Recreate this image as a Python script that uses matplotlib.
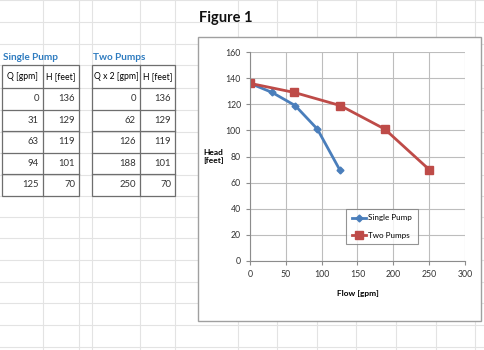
import matplotlib
matplotlib.use("Agg")
import matplotlib.pyplot as plt
from matplotlib.patches import Rectangle

plt.rcParams['font.family'] = ['Lato', 'DejaVu Sans']

# data
single_q = [0, 31, 63, 94, 125]
single_h = [136, 129, 119, 101, 70]
two_q = [0, 62, 126, 188, 250]
two_h = [136, 129, 119, 101, 70]

W, H = 485, 350
fig = plt.figure(figsize=(W / 100, H / 100), dpi=100)
fig.patch.set_facecolor('white')

# background sheet, pixel coordinates
bg = fig.add_axes([0, 0, 1, 1])
bg.set_xlim(0, W)
bg.set_ylim(H, 0)
bg.axis('off')

# spreadsheet cell grid
for x in [43, 79, 92, 140, 175, 238, 277, 317, 356, 396, 436, 475]:
    bg.axvline(x, color='#e3e3e3', lw=0.8, zorder=0)
for y in [0, 22, 44, 65, 88, 110, 132, 153, 175, 196, 217, 238, 260, 282, 303, 325, 347]:
    bg.axhline(y, color='#e3e3e3', lw=0.8, zorder=0)


def draw_table(x0, xd, x1, title, headers, c1, c2):
    top, hh, rh = 65, 23, 21.5
    bottom = top + hh + rh * len(c1)
    bg.text(x0 + 1, top - 3, title, color='#2f7cc0', fontsize=7.2, fontweight='bold',
            va='bottom', ha='left')
    bg.add_patch(Rectangle((x0, top), x1 - x0, bottom - top, fill=False,
                           ec='#6e6e6e', lw=0.9, zorder=3))
    bg.plot([xd, xd], [top, bottom], color='#6e6e6e', lw=0.9, zorder=3)
    bg.text((x0 + xd) / 2, top + hh / 2, headers[0], fontsize=6.2, ha='center', va='center')
    bg.text((xd + x1) / 2, top + hh / 2, headers[1], fontsize=6.2, ha='center', va='center')
    y = top + hh
    for a, b in zip(c1, c2):
        bg.plot([x0, x1], [y, y], color='#6e6e6e', lw=0.9, zorder=3)
        bg.text(xd - 4, y + rh / 2, str(a), fontsize=6.8, ha='right', va='center', color='#333333')
        bg.text(x1 - 4, y + rh / 2, str(b), fontsize=6.8, ha='right', va='center', color='#333333')
        y += rh


draw_table(2, 43, 79, 'Single Pump', ['Q [gpm]', 'H [feet]'], single_q, single_h)
draw_table(92, 140, 175, 'Two Pumps', ['Q x 2 [gpm]', 'H [feet]'], two_q, two_h)

bg.text(199, 18, 'Figure 1', fontsize=10.5, fontweight='bold', ha='left', va='center',
        color='#111111')

# chart frame
bg.add_patch(Rectangle((198, 37), 283, 284, fc='white', ec='#a0a0a0', lw=1.0, zorder=4))

# chart area
ax = fig.add_axes([250 / W, (H - 261) / H, 215 / W, 209 / H])
ax.plot(single_q, single_h, color='#4a7ebb', lw=2, marker='D', ms=3.5, label='Single Pump')
ax.plot(two_q, two_h, color='#be4b48', lw=2, marker='s', ms=5.5, label='Two Pumps')
ax.set_xlim(0, 300)
ax.set_ylim(0, 160)
ax.set_xticks(range(0, 301, 50))
ax.set_yticks(range(0, 161, 20))
ax.grid(True, color='#bdbdbd', lw=0.8)
ax.set_axisbelow(True)
for s in ['top', 'right']:
    ax.spines[s].set_visible(False)
for s in ['left', 'bottom']:
    ax.spines[s].set_color('#8c8c8c')
ax.tick_params(labelsize=6.3, colors='#333333', length=3, color='#8c8c8c')
ax.set_xlabel('Flow [gpm]', fontsize=6, fontweight='bold', labelpad=8)
ax.set_ylabel('Head\n[feet]', fontsize=6, fontweight='bold', rotation=0,
              ha='center', va='center', labelpad=9)
leg = ax.legend(loc='lower right', bbox_to_anchor=(0.80, 0.06), fontsize=5.8,
                frameon=True, fancybox=False, edgecolor='#7a7a7a', handlelength=1.8,
                handletextpad=0.3, borderpad=0.7, labelspacing=1.3)
leg.get_frame().set_linewidth(0.8)

fig.savefig('out.png', dpi=100)
